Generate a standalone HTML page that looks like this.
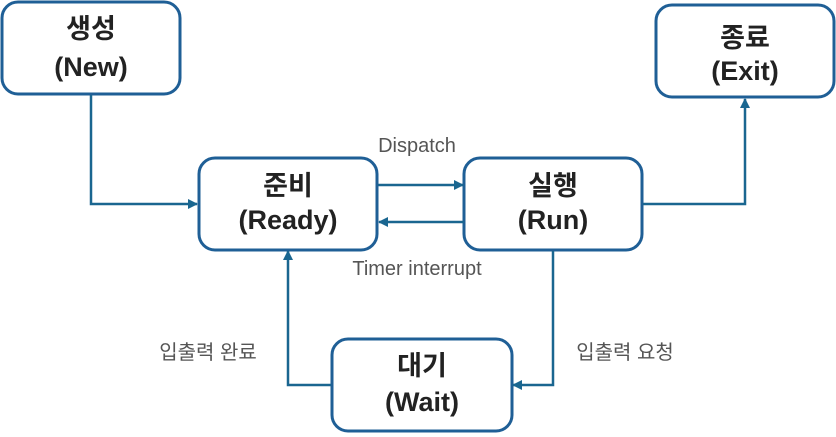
<!DOCTYPE html>
<html><head><meta charset="utf-8"><style>
html,body{margin:0;padding:0;background:#fff;}
svg{display:block;}
.t{font-family:"Liberation Sans","Noto Sans CJK KR",sans-serif;font-weight:bold;font-size:27px;fill:#222;text-anchor:middle;}
.l{font-family:"Liberation Sans","Noto Sans CJK KR",sans-serif;font-size:20px;fill:#555;text-anchor:middle;}
</style></head><body>
<svg width="836" height="437" viewBox="0 0 836 437" xmlns="http://www.w3.org/2000/svg">
<defs><marker id="a" markerWidth="10" markerHeight="10" refX="9" refY="5" orient="auto" markerUnits="userSpaceOnUse"><path d="M0,0 L10,5 L0,10 z" fill="#1a6690"/></marker></defs>
<g fill="#fff" stroke="#1f5f96" stroke-width="3">
<rect x="2" y="2" width="178" height="92" rx="16"/>
<rect x="199" y="158" width="178" height="92" rx="16"/>
<rect x="464" y="158" width="178" height="92" rx="16"/>
<rect x="656" y="5" width="178" height="92" rx="16"/>
<rect x="332" y="339" width="180" height="92" rx="16"/>
</g>
<g fill="none" stroke="#1a6690" stroke-width="2.5">
<polyline points="91,95 91,204 197,204" marker-end="url(#a)"/>
<line x1="378" y1="185" x2="463" y2="185" marker-end="url(#a)"/>
<line x1="464" y1="222" x2="379" y2="222" marker-end="url(#a)"/>
<polyline points="643,204 745,204 745,99" marker-end="url(#a)"/>
<polyline points="553,251 553,385 513,385" marker-end="url(#a)"/>
<polyline points="331,385 288,385 288,251" marker-end="url(#a)"/>
</g>
<text class="t" x="91" y="38">생성</text><text class="t" x="91" y="76">(New)</text>
<text class="t" x="288" y="195">준비</text><text class="t" x="288" y="229">(Ready)</text>
<text class="t" x="553" y="195">실행</text><text class="t" x="553" y="229">(Run)</text>
<text class="t" x="745" y="47">종료</text><text class="t" x="745" y="80">(Exit)</text>
<text class="t" x="422" y="375">대기</text><text class="t" x="422" y="411">(Wait)</text>
<text class="l" x="417" y="152">Dispatch</text>
<text class="l" x="417" y="275">Timer interrupt</text>
<text class="l" x="208" y="359">입출력 완료</text>
<text class="l" x="625" y="359">입출력 요청</text>
</svg>
</body></html>
